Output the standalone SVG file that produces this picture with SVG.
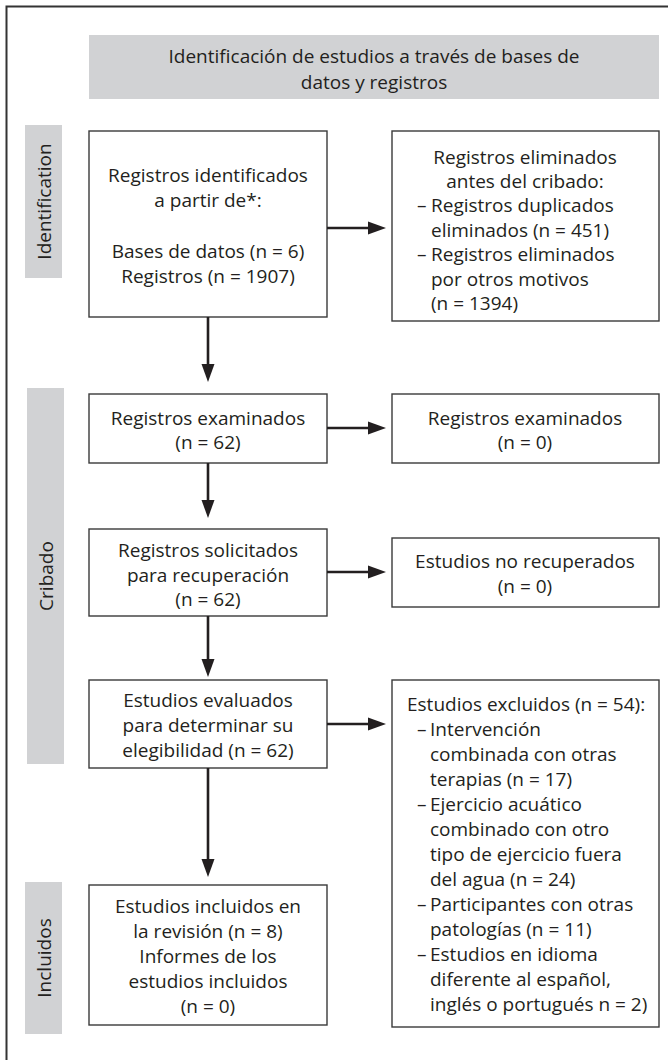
<svg xmlns="http://www.w3.org/2000/svg" width="668" height="1060" viewBox="0 0 668 1060">
<style>
text{font-family:"Open Sans","Liberation Sans",sans-serif;font-size:19px;fill:#231f20}
.c{text-anchor:middle}
.box{fill:#fff;stroke:#3a3a3a;stroke-width:1.4}
.band{fill:#d1d2d4}
.conn{stroke:#231f20;stroke-width:2.6;fill:none;marker-end:url(#ah)}
</style>
<defs>
<marker id="ah" markerUnits="userSpaceOnUse" markerWidth="18" markerHeight="14" refX="10" refY="7" orient="auto">
<path d="M0,0.5 L18,7 L0,13.5 z" fill="#231f20"/>
</marker>
</defs>
<rect width="668" height="1060" fill="#fff"/>
<path d="M6.5,1060 V6.5 H668" fill="none" stroke="#333" stroke-width="2"/>

<g id="header">
<rect class="band" x="89" y="35" width="570" height="64"/>
<text class="c" x="374" y="63">Identificación de estudios a través de bases de</text>
<text class="c" x="374" y="88.5">datos y registros</text>
</g>

<g id="phase-identification">
<rect class="band" x="25" y="125" width="37" height="153"/>
<text class="c" transform="translate(50.5,201.5) rotate(-90)">Identification</text>
</g>
<g id="phase-cribado">
<rect class="band" x="27" y="388" width="37" height="376"/>
<text class="c" transform="translate(52.5,576) rotate(-90)">Cribado</text>
</g>
<g id="phase-incluidos">
<rect class="band" x="25" y="882" width="37" height="152"/>
<text class="c" transform="translate(50.5,958) rotate(-90)">Incluidos</text>
</g>

<g id="n1">
<rect class="box" x="89" y="131" width="238" height="186"/>
<text class="c" x="208" y="182">Registros identificados</text>
<text class="c" x="208" y="207">a partir de*:</text>
<text class="c" x="208" y="258">Bases de datos (n = 6)</text>
<text class="c" x="208" y="283">Registros (n = 1907)</text>
</g>
<g id="n2">
<rect class="box" x="392" y="131" width="267" height="190"/>
<text class="c" x="525" y="164">Registros eliminados</text>
<text class="c" x="525" y="188">antes del cribado:</text>
<text x="417" y="212">–</text><text x="431" y="212">Registros duplicados</text>
<text x="431" y="236.5">eliminados (n = 451)</text>
<text x="417" y="261">–</text><text x="431" y="261">Registros eliminados</text>
<text x="431" y="285.5">por otros motivos</text>
<text x="431" y="310">(n = 1394)</text>
</g>
<g id="n3">
<rect class="box" x="89" y="394" width="238" height="69"/>
<text class="c" x="208" y="425">Registros examinados</text>
<text class="c" x="208" y="449">(n = 62)</text>
</g>
<g id="n4">
<rect class="box" x="392" y="394" width="267" height="69"/>
<text class="c" x="525" y="425">Registros examinados</text>
<text class="c" x="525" y="449">(n = 0)</text>
</g>
<g id="n5">
<rect class="box" x="89" y="529" width="238" height="87"/>
<text class="c" x="208" y="557">Registros solicitados</text>
<text class="c" x="208" y="581.5">para recuperación</text>
<text class="c" x="208" y="606">(n = 62)</text>
</g>
<g id="n6">
<rect class="box" x="392" y="538" width="267" height="69"/>
<text class="c" x="525" y="568">Estudios no recuperados</text>
<text class="c" x="525" y="593">(n = 0)</text>
</g>
<g id="n7">
<rect class="box" x="89" y="680" width="238" height="88"/>
<text class="c" x="208" y="707">Estudios evaluados</text>
<text class="c" x="208" y="732">para determinar su</text>
<text class="c" x="208" y="757">elegibilidad (n = 62)</text>
</g>
<g id="n8">
<rect class="box" x="392" y="680" width="267" height="347"/>
<text x="407" y="711">Estudios excluidos (n = 54):</text>
<text x="417" y="736">–</text><text x="430" y="736">Intervención</text>
<text x="430" y="761">combinada con otras</text>
<text x="430" y="786">terapias (n = 17)</text>
<text x="417" y="811">–</text><text x="430" y="811">Ejercicio acuático</text>
<text x="430" y="836">combinado con otro</text>
<text x="430" y="861">tipo de ejercicio fuera</text>
<text x="430" y="886">del agua (n = 24)</text>
<text x="417" y="911">–</text><text x="430" y="911">Participantes con otras</text>
<text x="430" y="936">patologías (n = 11)</text>
<text x="417" y="961">–</text><text x="430" y="961">Estudios en idioma</text>
<text x="430" y="986">diferente al español,</text>
<text x="430" y="1011">inglés o portugués n = 2)</text>
</g>
<g id="n9">
<rect class="box" x="89" y="885" width="238" height="140"/>
<text class="c" x="208" y="913">Estudios incluidos en</text>
<text class="c" x="208" y="938">la revisión (n = 8)</text>
<text class="c" x="208" y="963">Informes de los</text>
<text class="c" x="208" y="988">estudios incluidos</text>
<text class="c" x="208" y="1013">(n = 0)</text>
</g>

<g id="connectors">
<line class="conn" x1="327" y1="228" x2="378" y2="228"/>
<line class="conn" x1="208" y1="317" x2="208" y2="374"/>
<line class="conn" x1="327" y1="428" x2="378" y2="428"/>
<line class="conn" x1="208" y1="463" x2="208" y2="510"/>
<line class="conn" x1="327" y1="572" x2="378" y2="572"/>
<line class="conn" x1="208" y1="616" x2="208" y2="669"/>
<line class="conn" x1="327" y1="724" x2="378" y2="724"/>
<line class="conn" x1="208" y1="768" x2="208" y2="869"/>
</g>
</svg>
